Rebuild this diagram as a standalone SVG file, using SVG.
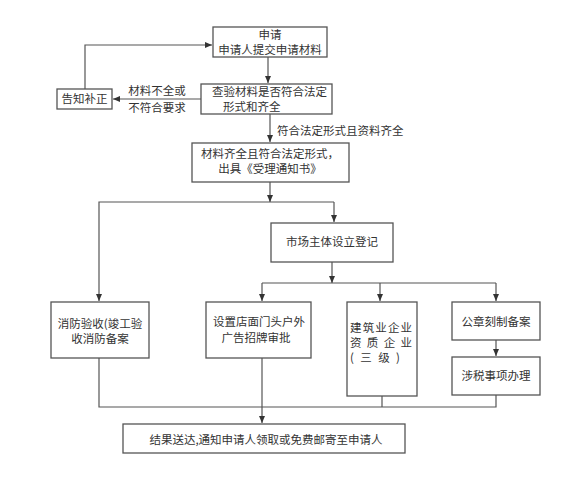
<svg xmlns="http://www.w3.org/2000/svg" width="586" height="480" viewBox="0 0 586 480">
<defs>
<marker id="arr" markerWidth="8" markerHeight="8" refX="7" refY="4" orient="auto" markerUnits="userSpaceOnUse">
<path d="M0,1 L7,4 L0,7 z" fill="#333"/>
</marker>
<style>
.box{fill:#fff;stroke:#555;stroke-width:1.3}
.ln{fill:none;stroke:#555;stroke-width:1.2}
text{font-family:"Noto Sans CJK SC","Noto Sans CJK JP",sans-serif;font-size:11.5px;fill:#333}
.c{text-anchor:middle}
</style>
</defs>
<rect width="586" height="480" fill="#fff"/>
<g id="connectors">
<path class="ln" d="M85,89 V45 H212" marker-end="url(#arr)"/>
<path class="ln" d="M268,57 V83" marker-end="url(#arr)"/>
<path class="ln" d="M201,99 H113" marker-end="url(#arr)"/>
<path class="ln" d="M270,114 V142" marker-end="url(#arr)"/>
<path class="ln" d="M270,182 V202" marker-end="url(#arr)"/>
<path class="ln" d="M334,202 H99 V301" marker-end="url(#arr)"/>
<path class="ln" d="M334,202 V222" marker-end="url(#arr)"/>
<path class="ln" d="M332,262 V283" marker-end="url(#arr)"/>
<path class="ln" d="M262,283 H496"/>
<path class="ln" d="M262,283 V301" marker-end="url(#arr)"/>
<path class="ln" d="M380,283 V301" marker-end="url(#arr)"/>
<path class="ln" d="M496,283 V301" marker-end="url(#arr)"/>
<path class="ln" d="M496,340 V356" marker-end="url(#arr)"/>
<path class="ln" d="M99,358 V407 H496 V395"/>
<path class="ln" d="M382,396 V407"/>
<path class="ln" d="M262,358 V423" marker-end="url(#arr)"/>
<text x="157" y="95" class="c">材料不全或</text>
<text x="157" y="112" class="c">不符合要求</text>
<text x="277" y="135">符合法定形式且资料齐全</text>
</g>
<g id="n-apply">
<rect class="box" x="213" y="27" width="114" height="30"/>
<text x="270" y="39" class="c">申请</text>
<text x="270" y="54" class="c">申请人提交申请材料</text>
</g>
<g id="n-check">
<rect class="box" x="201" y="84" width="131" height="30"/>
<text x="212" y="96" textLength="115" lengthAdjust="spacing">查验材料是否符合法定</text>
<text x="223" y="111">形式和齐全</text>
</g>
<g id="n-notify">
<rect class="box" x="57" y="89" width="55" height="20"/>
<text x="84.5" y="103" class="c">告知补正</text>
</g>
<g id="n-accept">
<rect class="box" x="192" y="143" width="157" height="39"/>
<text x="270" y="158" class="c">材料齐全且符合法定形式，</text>
<text x="270" y="173" class="c">出具《受理通知书》</text>
</g>
<g id="n-market">
<rect class="box" x="271" y="223" width="122" height="39"/>
<text x="332" y="246" class="c">市场主体设立登记</text>
</g>
<g id="n-fire">
<rect class="box" x="51" y="302" width="98" height="56"/>
<text x="100" y="328" class="c">消防验收(竣工验</text>
<text x="100" y="343" class="c">收消防备案</text>
</g>
<g id="n-sign">
<rect class="box" x="206" y="302" width="105" height="56"/>
<text x="259" y="326" class="c">设置店面门头户外</text>
<text x="256" y="342" class="c">广告招牌审批</text>
</g>
<g id="n-build">
<rect class="box" x="347" y="302" width="70" height="94"/>
<text x="350" y="332" textLength="62" lengthAdjust="spacing">建筑业企业</text>
<text x="350" y="347" textLength="62" lengthAdjust="spacing">资 质 企 业</text>
<text x="350" y="362" textLength="50" lengthAdjust="spacing">( 三 级 )</text>
</g>
<g id="n-seal">
<rect class="box" x="452" y="302" width="88" height="38"/>
<text x="496" y="326" class="c">公章刻制备案</text>
</g>
<g id="n-tax">
<rect class="box" x="452" y="357" width="88" height="38"/>
<text x="496" y="380" class="c">涉税事项办理</text>
</g>
<g id="n-result">
<rect class="box" x="123" y="424" width="282" height="29"/>
<text x="266" y="444" class="c">结果送达,通知申请人领取或免费邮寄至申请人</text>
</g>
</svg>
